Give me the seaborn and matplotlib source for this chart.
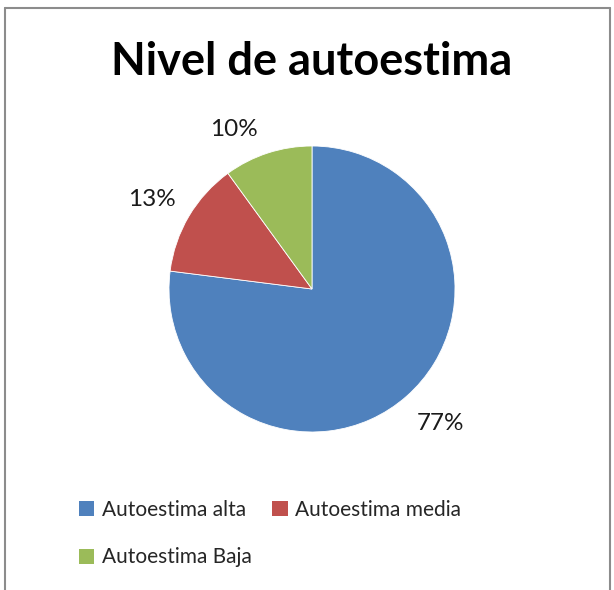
import matplotlib
matplotlib.use("Agg")
import matplotlib.pyplot as plt
import seaborn as sns
from matplotlib.patches import Patch
from matplotlib.lines import Line2D

sns.set_theme(style="white")
plt.rcParams['font.family'] = ['Lato', 'DejaVu Sans']

categories = ["Autoestima alta", "Autoestima media", "Autoestima Baja"]
values = [77, 13, 10]
labels = ["77%", "13%", "10%"]
colors = ["#4F81BD", "#C0504D", "#9BBB59"]

fig = plt.figure(figsize=(6.14, 5.9), dpi=100)
W, H = 614, 590

# frame
fig.add_artist(Line2D([5/W, 5/W], [0, 1 - 8/H], color="#8c8c8c", lw=1.5, transform=fig.transFigure))
fig.add_artist(Line2D([5/W, 610/W], [1 - 8/H, 1 - 8/H], color="#8c8c8c", lw=1.5, transform=fig.transFigure))
fig.add_artist(Line2D([610/W, 610/W], [0, 1 - 8/H], color="#8c8c8c", lw=1.5, transform=fig.transFigure))

cx, cy, r = 312, 289, 143
ax = fig.add_axes([(cx - r) / W, 1 - (cy + r) / H, 2 * r / W, 2 * r / H])
wedges, _ = ax.pie(values, colors=colors, startangle=90, counterclock=False,
                   radius=1.0, wedgeprops=dict(edgecolor="white", linewidth=0.6))
ax.set_xlim(-1, 1)
ax.set_ylim(-1, 1)
ax.set_aspect("equal")
ax.axis("off")

label_pos = [(440, 424), (152, 199), (234, 129)]
for (x, y), t in zip(label_pos, labels):
    fig.text(x / W, 1 - y / H, t, ha="center", va="center", fontsize=17.5, color="#1a1a1a")

fig.text(312 / W, 1 - 62 / H, "Nivel de autoestima", ha="center", va="center",
         fontsize=32.5, fontweight="bold", color="black")

handles = [Patch(facecolor=c, edgecolor="none") for c in colors]
order = [0, 2, 1]
leg = fig.legend([handles[i] for i in order], [categories[i] for i in order],
                 ncol=2, loc="upper left", bbox_to_anchor=(60 / W, 1 - 481 / H),
                 frameon=False, fontsize=15, handlelength=0.75, handleheight=0.75,
                 handletextpad=0.35, columnspacing=1.0, labelspacing=1.33)

fig.savefig("out.png", dpi=100)
